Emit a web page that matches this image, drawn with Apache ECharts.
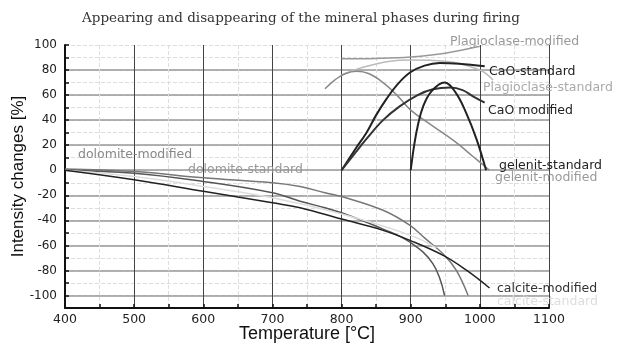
<!DOCTYPE html>
<html>
<head>
<meta charset="utf-8">
<script src="https://cdn.jsdelivr.net/npm/echarts@6/dist/echarts.min.js"></script>
<style>
  html, body { margin: 0; padding: 0; background: #fff; }
  #main { width: 625px; height: 350px; }
</style>
</head>
<body>
<div id="main"></div>
<script>
// 数据 [温度 °C, 强度变化 %]
var plagioclaseModified = [[800, 89], [850, 89.3], [900, 90.5], [950, 93.5], [1000, 99]];
var plagioclaseStandard = [[800, 76], [830, 82], [870, 87], [900, 88], [950, 87], [1000, 80], [1019, 72]];
var caoStandard = [[800, 0], [820, 17], [836, 30], [850, 44], [865, 57], [880, 68], [899, 78], [920, 83.5], [942, 85.6], [970, 85], [1007, 83]];
var caoModified = [[800, 0], [820, 14], [836, 25], [860, 40], [884, 51], [910, 60], [932, 64.6], [957, 66], [975, 64], [990, 59], [1007, 54]];
var gelenitStandard = [[900, 0], [905, 20], [910, 35], [918, 51], [930, 63], [949, 70], [965, 62], [980, 46], [995, 25], [1009, 0]];
var gelenitModified = [[776, 65], [790, 72], [805, 77], [822, 79], [840, 77], [860, 70], [880, 60], [900, 48], [930, 36], [966, 22], [990, 11], [1014, 0]];
var dolomiteModified = [[400, 1], [500, -1], [600, -6], [700, -10], [740, -13], [776, -18], [800, -21], [860, -32], [899, -44], [920, -54], [949, -68], [966, -80], [983, -100]];
var dolomiteStandard = [[400, 0], [500, -2.4], [600, -9], [700, -18], [740, -24.7], [776, -30], [800, -34], [860, -47], [899, -57.5], [932, -74.6], [949, -100]];
var calciteModified = [[400, 0], [500, -7.6], [600, -16.8], [700, -26], [740, -30], [800, -39], [860, -48], [899, -56], [947, -68], [981, -80], [1014, -94]];
var calciteStandard = [[400, 0], [500, -5], [600, -13], [700, -22], [800, -35], [900, -52], [937, -62]];

var xTicks = [400, 500, 600, 700, 800, 900, 1000, 1100];
var yTicks = [-100, -80, -60, -40, -20, 0, 20, 40, 60, 80, 100];

var chart = echarts.init(document.getElementById('main'), null, { renderer: 'canvas' });

function line(name, data, color, width) {
  return {
    name: name,
    type: 'line',
    data: data,
    smooth: 0.4,
    symbol: 'none',
    xAxisIndex: 0,
    yAxisIndex: 0,
    lineStyle: { color: color, width: width },
    z: 3
  };
}

function label(text, x, y, color) {
  return {
    type: 'text',
    left: x,
    top: y - 8,
    z: 10,
    style: {
      text: text,
      fill: color,
      font: '12.5px "DejaVu Sans"'
    }
  };
}

var option = {
  animation: false,
  backgroundColor: '#fff',
  title: {
    text: 'Appearing and disappearing of the mineral phases during firing',
    left: 296,
    textAlign: 'center',
    top: 6,
    textStyle: { fontFamily: 'DejaVu Serif', fontSize: 13.5, fontWeight: 'normal', color: '#333' }
  },
  grid: [
    { left: 65, right: 76, top: 45, bottom: 42, outerBoundsMode: 'none' },
    // 只用来画 20 的实线 (-100 到 80)
    { left: 65, right: 76, top: 70.05, bottom: 54.52, outerBoundsMode: 'none' }
  ],
  xAxis: [{
    gridIndex: 0,
    type: 'value',
    min: 400,
    max: 1100,
    interval: 100,
    name: 'Temperature [°C]',
    nameLocation: 'middle',
    nameGap: 17,
    nameMoveOverlap: false,
    nameTextStyle: { fontFamily: 'Liberation Sans', fontSize: 18, color: '#111' },
    axisLine: { show: true, onZero: false, lineStyle: { color: '#111', width: 2 } },
    axisTick: { show: true, inside: true, length: 4, lineStyle: { color: '#111', width: 1.5 } },
    minorTick: { show: true, splitNumber: 2, length: 4, lineStyle: { color: '#111', width: 1.5 } },
    axisLabel: {
      margin: 5,
      fontFamily: 'DejaVu Sans',
      fontSize: 12.5,
      color: '#222',
      formatter: function (v) { return xTicks.indexOf(v) >= 0 ? v : ''; }
    },
    splitLine: { show: true, lineStyle: { color: '#444', width: 1 } },
    minorSplitLine: { show: true, lineStyle: { color: '#ddd', type: 'dashed', width: 1 } }
  }, {
    gridIndex: 1,
    type: 'value',
    min: 400,
    max: 1100,
    show: false
  }],
  yAxis: [{
    gridIndex: 0,
    type: 'value',
    min: -110,
    max: 100,
    interval: 10,
    name: 'Intensity changes [%]',
    nameLocation: 'middle',
    nameGap: 38,
    nameMoveOverlap: false,
    nameTextStyle: { fontFamily: 'Liberation Sans', fontSize: 17, color: '#111' },
    axisLine: { show: true, onZero: false, lineStyle: { color: '#111', width: 2 } },
    axisTick: { show: true, inside: true, length: 4, lineStyle: { color: '#111', width: 1.5 } },
    axisLabel: {
      margin: 8,
      fontFamily: 'DejaVu Sans',
      fontSize: 12,
      color: '#222',
      formatter: function (v) { return yTicks.indexOf(v) >= 0 ? v : ''; }
    },
    splitLine: { show: true, lineStyle: { color: '#ddd', type: 'dashed', width: 1 } }
  }, {
    gridIndex: 1,
    type: 'value',
    min: -100,
    max: 80,
    interval: 20,
    axisLine: { show: false },
    axisTick: { show: false },
    axisLabel: { show: false },
    splitLine: { show: true, lineStyle: { color: '#999', width: 1.5 } }
  }],
  series: [
    line('Plagioclase-modified', plagioclaseModified, '#999', 1.5),
    line('Plagioclase-standard', plagioclaseStandard, '#bbb', 1.5),
    line('gelenit-modified', gelenitModified, '#888', 1.5),
    line('CaO-standard', caoStandard, '#222', 2),
    line('CaO modified', caoModified, '#333', 2),
    line('gelenit-standard', gelenitStandard, '#222', 2),
    line('dolomite-modified', dolomiteModified, '#777', 1.5),
    line('dolomite-standard', dolomiteStandard, '#555', 1.5),
    line('calcite-standard', calciteStandard, '#ddd', 1.5),
    line('calcite-modified', calciteModified, '#222', 1.5)
  ],
  graphic: [
    label('Plagioclase-modified', 450, 43, '#999'),
    label('CaO-standard', 489, 73, '#222'),
    label('Plagioclase-standard', 483, 89, '#aaa'),
    label('CaO modified', 488, 112, '#222'),
    label('gelenit-standard', 499, 167, '#222'),
    label('gelenit-modified', 495, 179, '#999'),
    label('dolomite-modified', 78, 156, '#888'),
    label('dolomite-standard', 188, 171, '#999'),
    label('calcite-modified', 497, 290, '#333'),
    label('calcite-standard', 497, 303, '#ddd')
  ]
};

chart.setOption(option);
</script>
</body>
</html>
